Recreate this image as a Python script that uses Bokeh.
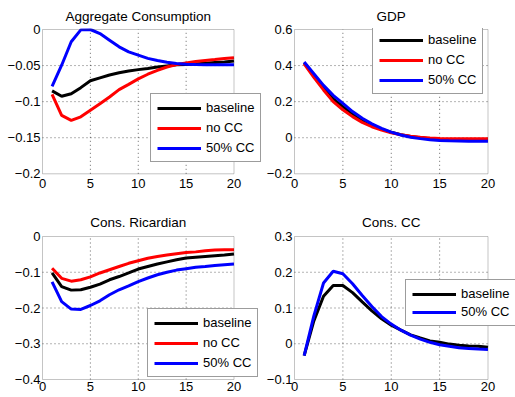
from bokeh.plotting import figure
from bokeh.layouts import gridplot
from bokeh.models import Range1d, FixedTicker, Legend, LegendItem, BoxAnnotation
from bokeh.embed import file_html
from bokeh.resources import INLINE

# ---------------- data ----------------
periods = list(range(1, 21))

agg_baseline = [-0.085, -0.0926, -0.089, -0.0806, -0.071, -0.067, -0.063, -0.060, -0.0574, -0.0556,
                -0.054, -0.052, -0.0505, -0.049, -0.0486, -0.0477, -0.0468, -0.0458, -0.045, -0.0435]
agg_nocc = [-0.090, -0.119, -0.126, -0.121, -0.112, -0.103, -0.0935, -0.0833, -0.076, -0.0685,
            -0.062, -0.0565, -0.052, -0.0486, -0.0463, -0.0444, -0.043, -0.0417, -0.0403, -0.039]
agg_50cc = [-0.0787, -0.0495, -0.017, -0.0005, 0.0, -0.0056, -0.0148, -0.024, -0.031, -0.0356,
            -0.040, -0.043, -0.0454, -0.047, -0.048, -0.0486, -0.0488, -0.049, -0.049, -0.049]

gdp_baseline = [0.415, 0.345, 0.278, 0.215, 0.172, 0.132, 0.097, 0.07, 0.048, 0.03,
                0.017, 0.007, 0.0, -0.005, -0.008, -0.01, -0.011, -0.012, -0.013, -0.013]
gdp_nocc = [0.41, 0.335, 0.265, 0.2, 0.155, 0.117, 0.085, 0.061, 0.042, 0.027,
            0.016, 0.008, 0.002, -0.002, -0.004, -0.005, -0.006, -0.006, -0.006, -0.006]
gdp_50cc = [0.42, 0.355, 0.29, 0.235, 0.19, 0.145, 0.108, 0.077, 0.052, 0.031,
            0.015, 0.003, -0.005, -0.011, -0.015, -0.017, -0.018, -0.019, -0.019, -0.019]

ric_baseline = [-0.102, -0.14, -0.15, -0.149, -0.142, -0.133, -0.121, -0.112, -0.102, -0.091,
                -0.084, -0.077, -0.071, -0.065, -0.060, -0.058, -0.056, -0.054, -0.052, -0.049]
ric_nocc = [-0.089, -0.117, -0.125, -0.121, -0.113, -0.102, -0.093, -0.084, -0.075, -0.068,
            -0.061, -0.056, -0.052, -0.048, -0.045, -0.043, -0.040, -0.038, -0.037, -0.037]
ric_50cc = [-0.127, -0.182, -0.203, -0.204, -0.193, -0.18, -0.163, -0.149, -0.138, -0.126,
            -0.116, -0.107, -0.100, -0.094, -0.090, -0.086, -0.084, -0.081, -0.079, -0.077]

cc_baseline = [-0.033, 0.064, 0.133, 0.163, 0.163, 0.143, 0.117, 0.092, 0.070, 0.052,
               0.038, 0.025, 0.016, 0.008, 0.004, -0.001, -0.004, -0.006, -0.007, -0.010]
cc_50cc = [-0.033, 0.078, 0.17, 0.203, 0.196, 0.168, 0.135, 0.104, 0.076, 0.055,
           0.038, 0.024, 0.013, 0.004, -0.003, -0.007, -0.011, -0.013, -0.015, -0.016]

x_ticks = [0, 5, 10, 15, 20]
x_labels = ["0", "5", "10", "15", "20"]

agg_ticks = [-0.2, -0.15, -0.1, -0.05, 0]
agg_labels = ["\u22120.2", "\u22120.15", "\u22120.1", "\u22120.05", "0"]
gdp_ticks = [-0.2, 0, 0.2, 0.4, 0.6]
gdp_labels = ["\u22120.2", "0", "0.2", "0.4", "0.6"]
ric_ticks = [-0.4, -0.3, -0.2, -0.1, 0]
ric_labels = ["\u22120.4", "\u22120.3", "\u22120.2", "\u22120.1", "0"]
cc_ticks = [-0.1, 0, 0.1, 0.2, 0.3]
cc_labels = ["\u22120.1", "0", "0.1", "0.2", "0.3"]

titles = ["Aggregate Consumption", "GDP", "Cons. Ricardian", "Cons. CC"]
series_names = ["baseline", "no CC", "50% CC"]
series_colors = ["#000000", "#ff0000", "#0000ff"]

FONT = "Liberation Sans"
BOX_COLOR = "#3a3a3a"
TITLE_PX = 13.5

# approximate advance widths (em/1000) of Liberation Sans, used to centre titles
_ADV = {"A": 667, "g": 556, "r": 333, "e": 556, "a": 556, "t": 278, " ": 278, "C": 722,
        "o": 556, "n": 556, "s": 500, "u": 556, "m": 833, "p": 556, "i": 222, "G": 778,
        "D": 722, "P": 667, ".": 278, "R": 722, "c": 500, "d": 556}


def text_width(s, px):
    return sum(_ADV.get(ch, 556) for ch in s) / 1000.0 * px


def make_panel(title, W, H, bl, bt, bb, data_px_w, pad_l, pad_t, pad_b,
               yticks, ylabels, series, legend_xy, xstandoff, spacing, title_standoff):
    ymin, ymax = min(yticks), max(yticks)
    xmin, xmax = x_ticks[0], x_ticks[-1]
    # frame extends to the right edge so the legend is not clipped
    frame_w = W - bl
    xs = data_px_w / (xmax - xmin)
    x_start = xmin - pad_l / xs
    x_end = x_start + frame_w / xs
    frame_h = H - bt - bb
    ys = (frame_h - pad_t - pad_b) / (ymax - ymin)
    y_start = ymin - pad_b / ys
    y_end = ymax + pad_t / ys

    p = figure(width=W, height=H, output_backend="svg", toolbar_location=None,
               x_range=Range1d(x_start, x_end), y_range=Range1d(y_start, y_end),
               min_border_left=bl, min_border_right=0, min_border_top=bt, min_border_bottom=bb)
    p.background_fill_color = "white"
    p.border_fill_color = "white"
    p.outline_line_color = None
    p.xgrid.visible = False
    p.ygrid.visible = False

    p.title.text = title
    p.title.align = "left"
    p.title.offset = pad_l + data_px_w / 2 - text_width(title, TITLE_PX) / 2
    p.title.text_font = FONT
    p.title.text_font_size = f"{TITLE_PX}px"
    p.title.text_font_style = "normal"
    p.title.text_color = "#000000"
    p.title.standoff = title_standoff

    p.xaxis.ticker = FixedTicker(ticks=x_ticks)
    p.xaxis.major_label_overrides = dict(zip(x_ticks, x_labels))
    p.yaxis.ticker = FixedTicker(ticks=yticks)
    p.yaxis.major_label_overrides = dict(zip(yticks, ylabels))
    for ax in (p.xaxis, p.yaxis):
        ax.axis_line_color = None
        ax.major_tick_line_color = None
        ax.minor_tick_line_color = None
        ax.major_tick_in = 0
        ax.major_tick_out = 0
        ax.minor_tick_out = 0
        ax.major_label_text_font = FONT
        ax.major_label_text_font_size = "13px"
        ax.major_label_text_color = "#000000"
    p.xaxis.major_label_standoff = xstandoff
    p.yaxis.major_label_standoff = 1

    # dotted grid limited to the axes box
    gx = x_ticks[1:-1]
    p.segment(x0=gx, y0=[ymin] * len(gx), x1=gx, y1=[ymax] * len(gx),
              line_color="#000000", line_alpha=0.6, line_dash="1 3", line_width=1)
    gy = yticks[1:-1]
    p.segment(x0=[xmin] * len(gy), y0=gy, x1=[xmax] * len(gy), y1=gy,
              line_color="#000000", line_alpha=0.6, line_dash="1 3", line_width=1)

    items = []
    for name, color, vals in series:
        r = p.line(periods, vals, line_color=color, line_width=3)
        items.append(LegendItem(label=name, renderers=[r]))

    p.add_layout(BoxAnnotation(left=xmin, right=xmax, bottom=ymin, top=ymax,
                               fill_alpha=0, line_color=BOX_COLOR, line_width=1))

    leg = Legend(items=items, location=legend_xy)
    leg.label_text_font = FONT
    leg.label_text_font_size = "13px"
    leg.label_text_color = "#000000"
    leg.border_line_color = BOX_COLOR
    leg.border_line_width = 1
    leg.background_fill_color = "white"
    leg.background_fill_alpha = 1
    leg.glyph_width = 44
    leg.glyph_height = 14
    leg.label_height = 14
    leg.label_standoff = 5
    leg.spacing = spacing
    leg.padding = 6
    leg.margin = 0
    p.add_layout(leg)
    return p


p1 = make_panel(titles[0], 263, 200, 41, 28, 25, 191.5, 1, 1, 1.7, agg_ticks, agg_labels,
                [(series_names[0], series_colors[0], agg_baseline),
                 (series_names[1], series_colors[1], agg_nocc),
                 (series_names[2], series_colors[2], agg_50cc)], (109, 13), 3, 5, 9)
p2 = make_panel(titles[1], 252, 200, 30, 28, 25, 193.5, 1, 1, 1.7, gdp_ticks, gdp_labels,
                [(series_names[0], series_colors[0], gdp_baseline),
                 (series_names[1], series_colors[1], gdp_nocc),
                 (series_names[2], series_colors[2], gdp_50cc)], (79, 81), 3, 5, 9)
p3 = make_panel(titles[2], 263, 197, 41, 35, 17, 191.5, 1, 1, 1, ric_ticks, ric_labels,
                [(series_names[0], series_colors[0], ric_baseline),
                 (series_names[1], series_colors[1], ric_nocc),
                 (series_names[2], series_colors[2], ric_50cc)], (106, 3), 1, 5, 11)
p4 = make_panel(titles[3], 252, 197, 30, 35, 17, 193.5, 1, 1, 1, cc_ticks, cc_labels,
                [(series_names[0], series_colors[0], cc_baseline),
                 (series_names[2], series_colors[2], cc_50cc)], (112, 54), 1, 3, 11)

grid = gridplot([[p1, p2], [p3, p4]], toolbar_location=None)

open("out.html", "w").write(file_html(grid, INLINE))
